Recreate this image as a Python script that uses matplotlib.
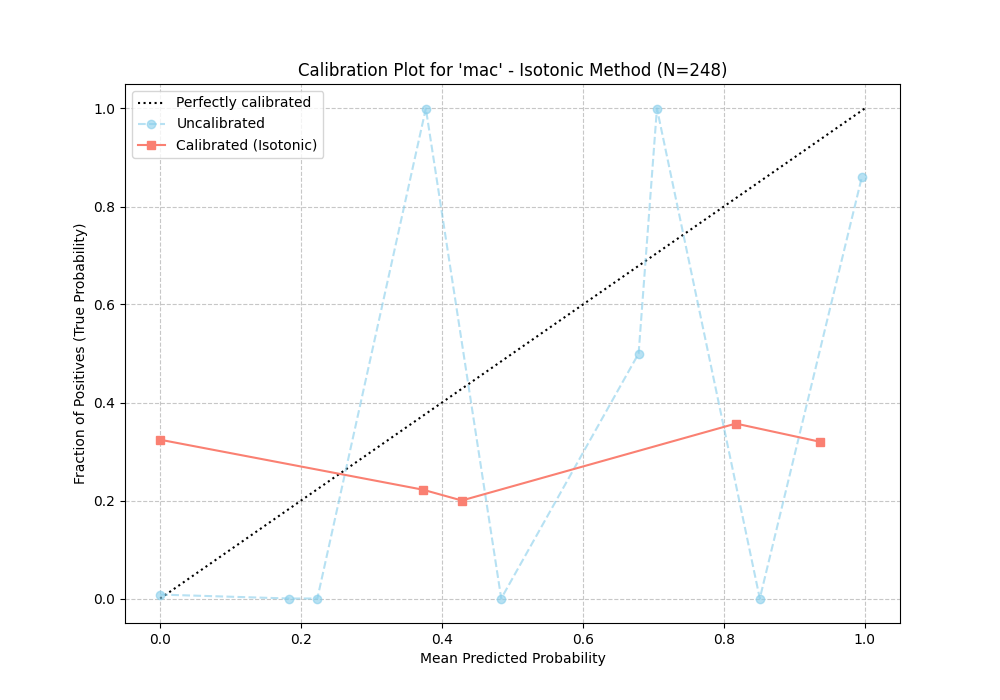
import matplotlib
matplotlib.use('Agg')
import matplotlib.pyplot as plt

# uncalibrated calibration curve (mean predicted, fraction positives)
uncal_pred = [0.0, 0.183, 0.223, 0.377, 0.484, 0.679, 0.705, 0.851, 0.996]
uncal_true = [0.008, 0.0, 0.0, 1.0, 0.0, 0.5, 1.0, 0.0, 0.861]

# isotonic-calibrated curve
cal_pred = [0.0, 0.373, 0.428, 0.817, 0.936]
cal_true = [0.324, 0.222, 0.2, 0.357, 0.320]

fig, ax = plt.subplots(figsize=(10, 7), dpi=100)

ax.plot([0, 1], [0, 1], 'k:', label='Perfectly calibrated')
ax.plot(uncal_pred, uncal_true, 'o--', color='skyblue', alpha=0.6,
        label='Uncalibrated')
ax.plot(cal_pred, cal_true, 's-', color='salmon', label='Calibrated (Isotonic)')

ax.set_xlabel('Mean Predicted Probability')
ax.set_ylabel('Fraction of Positives (True Probability)')
ax.set_title("Calibration Plot for 'mac' - Isotonic Method (N=248)")
ax.legend(loc='upper left')
ax.grid(True, linestyle='--', alpha=0.7)

plt.savefig('out.png')
